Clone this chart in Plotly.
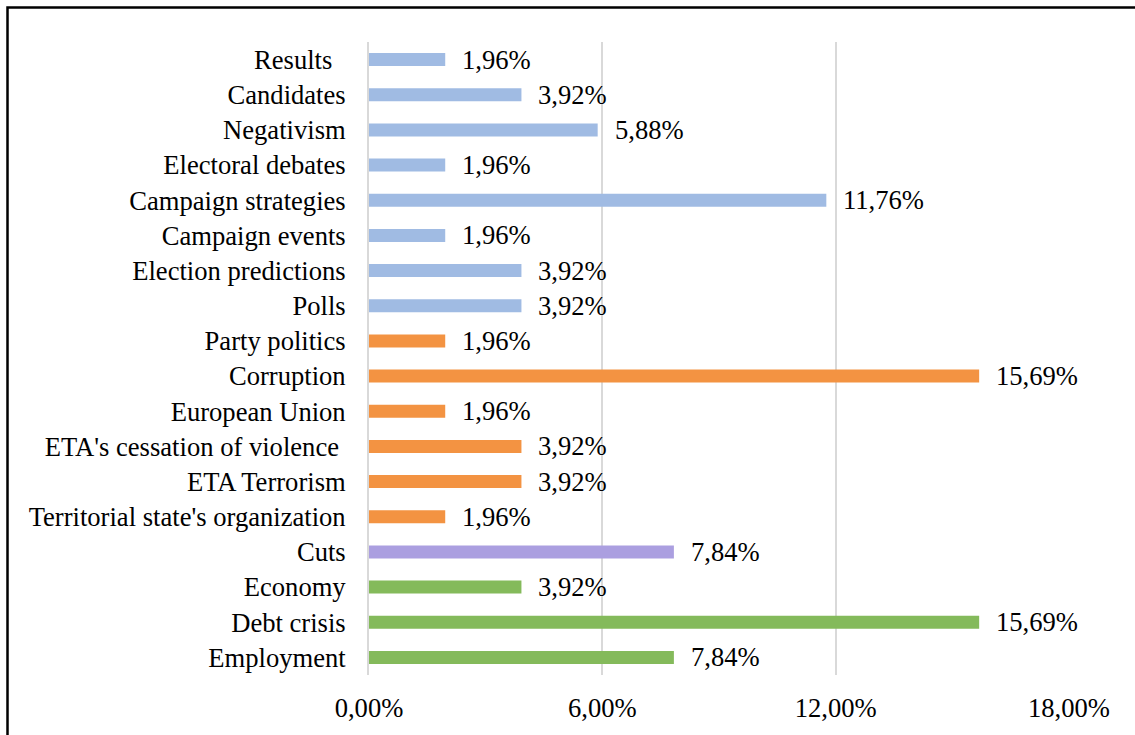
import plotly.graph_objects as go

categories = [
    "Employment", "Debt crisis", "Economy", "Cuts",
    "Territorial state's organization", "ETA Terrorism",
    "ETA's cessation of violence\u00a0", "European Union", "Corruption",
    "Party politics", "Polls", "Election predictions", "Campaign events",
    "Campaign strategies", "Electoral debates", "Negativism", "Candidates",
    "Results\u00a0\u00a0",
]
values = [7.84, 15.69, 3.92, 7.84, 1.96, 3.92, 3.92, 1.96, 15.69,
          1.96, 3.92, 3.92, 1.96, 11.76, 1.96, 5.88, 3.92, 1.96]
groups = ["eco", "eco", "eco", "cuts",
          "pol", "pol", "pol", "pol", "pol", "pol",
          "camp", "camp", "camp", "camp", "camp", "camp", "camp", "camp"]
group_colors = {"eco": "#84BA5B", "cuts": "#AB9FE0", "pol": "#F39342", "camp": "#A0BBE3"}
x_ticks = [0, 0.06, 0.12, 0.18]

fractions = [v / 100 for v in values]
colors = [group_colors[g] for g in groups]
font = "Liberation Serif, Times New Roman, serif"
FS = 26.6

fig = go.Figure(go.Bar(
    y=categories, x=fractions, orientation="h",
    marker=dict(color=colors, line=dict(width=0)),
    width=0.37, hoverinfo="x+y",
))

for c, f, v in zip(categories, fractions, values):
    fig.add_annotation(
        x=f, y=c, xref="x", yref="y", text=f"{v:.2f}".replace(".", ",") + "%",
        showarrow=False, xanchor="left", xshift=15,
        font=dict(family=font, size=FS, color="#000000"),
    )

# chart border
L, R, T, B = 369, 1069, 42, 675
W, H = R - L, B - T
fig.add_shape(type="rect", xref="paper", yref="paper",
              x0=(7.5 - L) / W, x1=(1145 - L) / W,
              y0=(B - 745) / H, y1=(B - 7.5) / H,
              line=dict(color="#000000", width=2.5), fillcolor="rgba(0,0,0,0)")

fig.update_layout(
    width=1135, height=735,
    margin=dict(l=L, r=1135 - R, t=T, b=735 - B, pad=0),
    paper_bgcolor="white", plot_bgcolor="white",
    separators=", ",
    showlegend=False,
    font=dict(family=font, size=FS, color="#000000"),
)
fig.update_xaxes(
    range=[0, 0.18], tickvals=x_ticks, tickformat=".2%",
    showgrid=True, gridcolor="#D9D9D9", gridwidth=2,
    zeroline=False, showline=False, ticks="",
    ticklabelstandoff=14,
    tickfont=dict(family=font, size=FS, color="#000000"),
)
fig.update_yaxes(
    categoryorder="array", categoryarray=categories,
    showgrid=False, zeroline=False, showline=True,
    linecolor="#D9D9D9", linewidth=2, ticks="",
    ticklabelstandoff=16,
    tickfont=dict(family=font, size=FS, color="#000000"),
)

fig.write_html(
    "out.html",
    config={"displayModeBar": False},
    post_script="document.body.style.margin='0';document.body.style.overflow='hidden';",
)
